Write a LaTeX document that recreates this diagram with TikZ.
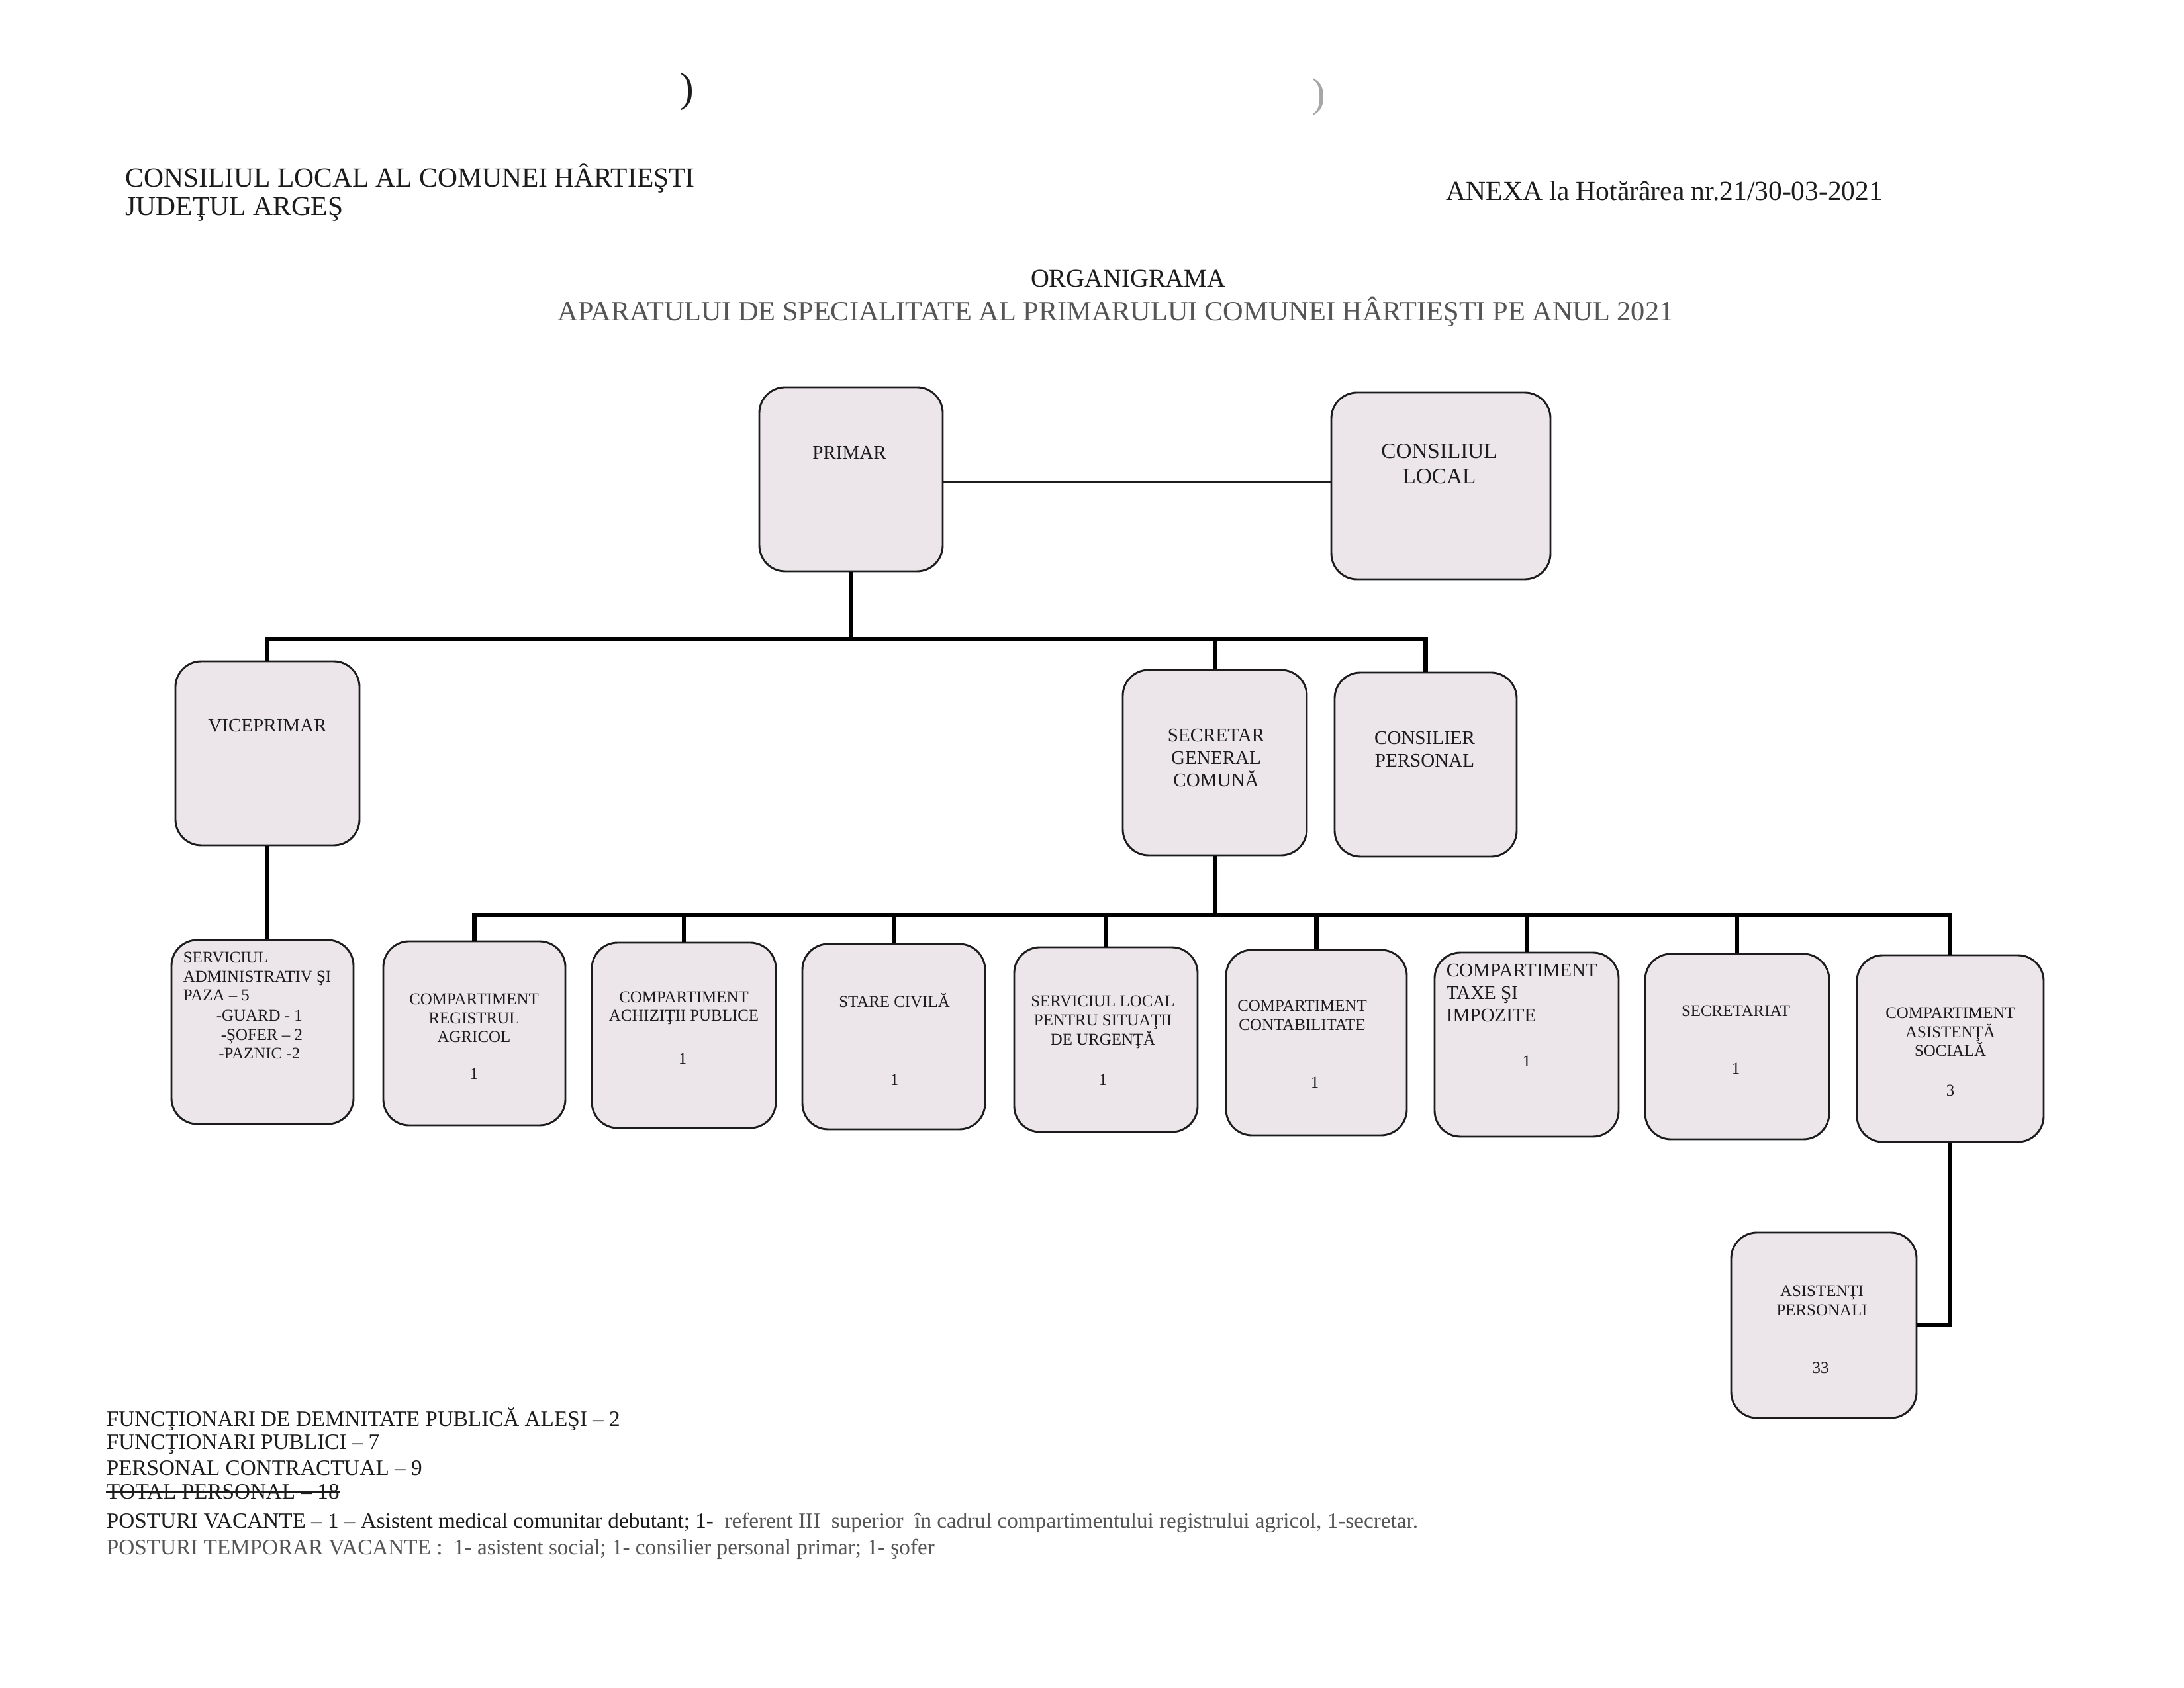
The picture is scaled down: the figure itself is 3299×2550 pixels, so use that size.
\documentclass[tikz,border=0pt]{standalone}
\usepackage{fontspec}
\setmainfont{Liberation Serif}
\usetikzlibrary{fit}
\definecolor{boxfill}{RGB}{236,230,234}
\definecolor{ink}{RGB}{28,28,28}
\definecolor{greyink}{RGB}{85,85,85}
\begin{document}
\begin{tikzpicture}[x=0.0846667mm, y=-0.0846667mm,
  box/.style={draw=ink, line width=0.7pt, fill=boxfill, rounded corners=3.3mm, inner sep=0pt},
  conn/.style={draw=black, line width=1.5pt},
  thinconn/.style={draw=ink, line width=0.6pt},
  lbl/.style={inner sep=0pt, align=center, text=ink},
  fsix/.style={font=\fontsize{6}{6.9}\selectfont},
  fseven/.style={font=\fontsize{7}{8.1}\selectfont},
  feight/.style={font=\fontsize{8}{9.1}\selectfont},
  hdr/.style={inner sep=0pt, text=ink, font=\fontsize{10}{12}\selectfont},
  foot/.style={inner sep=0pt, anchor=west, text=ink, font=\fontsize{8}{9.5}\selectfont}]
\useasboundingbox (0,0) rectangle (3299,2550);
\fill[white] (0,0) rectangle (3299,2550);

% scan marks
\node[inner sep=0pt, text=ink, font=\fontsize{15}{15}\selectfont] (markA) at (1038,139) {)};
\node[inner sep=0pt, text=black!35, font=\fontsize{15}{15}\selectfont] (markB) at (1992,147) {)};

% header
\node[hdr, anchor=west] (h1) at (189,269) {CONSILIUL LOCAL AL COMUNEI HÂRTIEŞTI};
\node[hdr, anchor=west] (h2) at (189,316) {JUDEŢUL ARGEŞ};
\node[hdr, anchor=west] (h3) at (2184,288) {ANEXA la Hotărârea nr.21/30-03-2021};
\node[hdr, font=\fontsize{9.3}{11}\selectfont] (t1) at (1704,421) {ORGANIGRAMA};
\node[hdr, text=greyink, font=\fontsize{10.2}{12}\selectfont] (t2) at (1685,471) {APARATULUI DE SPECIALITATE AL PRIMARULUI COMUNEI HÂRTIEŞTI PE ANUL 2021};

% boxes
\node[box, fit={(1147,585) (1424,863)}] (primar) {};
\node[box, fit={(2011,593) (2342,875)}] (consl) {};
\node[box, fit={(265,999) (543,1277)}] (vice) {};
\node[box, fit={(1696,1012) (1974,1292)}] (sec) {};
\node[box, fit={(2016,1016) (2291,1294)}] (consp) {};

\node[box, fit={(259,1420) (534,1698)}] (serv) {};
\node[box, fit={(579,1422) (854,1700)}] (reg) {};
\node[box, fit={(894,1424) (1172,1704)}] (achiz) {};
\node[box, fit={(1212,1426) (1488,1706)}] (stare) {};
\node[box, fit={(1532,1431) (1809,1710)}] (servloc) {};
\node[box, fit={(1852,1435) (2125,1715)}] (contab) {};
\node[box, fit={(2167,1439) (2445,1717)}] (taxe) {};
\node[box, fit={(2485,1441) (2763,1721)}] (secr) {};
\node[box, fit={(2805,1443) (3087,1725)}] (asist) {};
\node[box, fit={(2615,1862) (2895,2142)}] (asp) {};

% box texts
\node[lbl, fseven] (primarT) at (1283,684) {PRIMAR};
\node[lbl, feight] (conslT) at (2174,701) {CONSILIUL\\LOCAL};
\node[lbl, fseven] (viceT) at (404,1096) {VICEPRIMAR};
\node[lbl, fseven] (secT) at (1837,1145) {SECRETAR\\GENERAL\\COMUNĂ};
\node[lbl, fseven] (conspT) at (2152,1132) {CONSILIER\\PERSONAL};

\node[lbl, fsix, align=left, anchor=west] (servT) at (276,1475) {SERVICIUL\\ADMINISTRATIV ŞI\\PAZA – 5};
\node[lbl, fsix, align=left, anchor=west] (servT2) at (326,1563) {-GUARD - 1\\\hspace*{0.6mm}-ŞOFER – 2\\\hspace*{0.3mm}-PAZNIC -2};
\node[lbl, fsix] (regT) at (716,1538) {COMPARTIMENT\\REGISTRUL\\AGRICOL};
\node[lbl, fsix] (regN) at (716,1622) {1};
\node[lbl, fsix] (achizT) at (1033,1523) {COMPARTIMENT\\ACHIZIŢII PUBLICE};
\node[lbl, fsix] (achizN) at (1031,1599) {1};
\node[lbl, fsix] (stareT) at (1351,1511) {STARE CIVILĂ};
\node[lbl, fsix] (stareN) at (1351,1631) {1};
\node[lbl, fsix] (servlocT) at (1666,1544) {SERVICIUL LOCAL\\PENTRU SITUAŢII\\DE URGENŢĂ};
\node[lbl, fsix] (servlocN) at (1666,1631) {1};
\node[lbl, fsix] (contabT) at (1967,1534) {COMPARTIMENT\\CONTABILITATE};
\node[lbl, fsix] (contabN) at (1986,1635) {1};
\node[lbl, fseven, align=left, anchor=west] (taxeT) at (2184,1500) {COMPARTIMENT\\TAXE ŞI\\IMPOZITE};
\node[lbl, fsix] (taxeN) at (2306,1603) {1};
\node[lbl, fsix] (secrT) at (2622,1527) {SECRETARIAT};
\node[lbl, fsix] (secrN) at (2622,1614) {1};
\node[lbl, fsix] (asistT) at (2946,1559) {COMPARTIMENT\\ASISTENŢĂ\\SOCIALĂ};
\node[lbl, fsix] (asistN) at (2946,1647) {3};
\node[lbl, fsix] (aspT) at (2752,1965) {ASISTENŢI\\PERSONALI};
\node[lbl, fsix] (aspN) at (2750,2066) {33};

% connectors
\coordinate (busA) at (0,966);
\coordinate (busB) at (0,1382);
\coordinate (plink) at (1424,728);
\draw[thinconn] (plink) -- (plink -| consl.west);
\draw[conn] (primar.south) -- (primar.south |- busA);
\draw[conn] (vice.north) -- (vice.north |- busA) -- (consp.north |- busA) -- (consp.north);
\draw[conn] (sec.north) -- (sec.north |- busA);
\draw[conn] (vice.south) -- (vice.south |- serv.north);
\draw[conn] (sec.south) -- (sec.south |- busB);
\draw[conn] (reg.north) -- (reg.north |- busB) -- (asist.north |- busB) -- (asist.north);
\foreach \b in {achiz,stare,servloc,contab,taxe,secr}{
  \draw[conn] (\b.north) -- (\b.north |- busB);
}
\draw[conn] (asist.south) |- (asp.east);

% footer
\node[foot] (f1) at (160,2144) {FUNCŢIONARI DE DEMNITATE PUBLICĂ ALEŞI – 2};
\node[foot] (f2) at (160,2182) {FUNCŢIONARI PUBLICI – 7};
\node[foot] (f3) at (160,2218) {PERSONAL CONTRACTUAL – 9};
\node[foot] (f4) at (160,2254) {TOTAL PERSONAL – 18};
\draw[ink, line width=0.5pt] (f4.west) -- (f4.east);
\node[foot] (f5) at (160,2300) {POSTURI VACANTE – 1 – Asistent medical comunitar debutant; 1-\ \ {\color{greyink}referent III\ \ superior\ \ în cadrul compartimentului registrului agricol, 1-secretar.}};
\node[foot, text=greyink] (f6) at (160,2340) {POSTURI TEMPORAR VACANTE :\ \ 1- asistent social; 1- consilier personal primar; 1- şofer};
\end{tikzpicture}
\end{document}
